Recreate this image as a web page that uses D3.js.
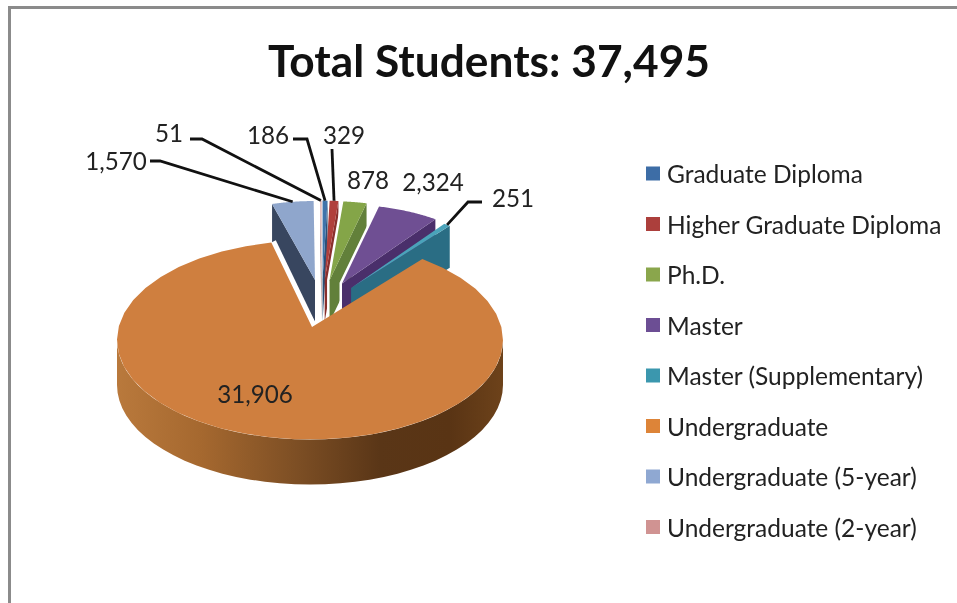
<!DOCTYPE html>
<html>
<head>
<meta charset="utf-8">
<script src="https://cdn.jsdelivr.net/npm/d3@7/dist/d3.min.js"></script>
<style>
html,body{margin:0;padding:0;background:#fff;overflow:hidden}
svg{display:block;filter:blur(0.55px)}
text{font-family:Lato,Carlito,"Open Sans",sans-serif;fill:#222}
</style>
</head>
<body>
<svg id="c" width="957" height="603"></svg>
<script>
const titleText = "Total Students: 37,495";
const categories = ["Graduate Diploma","Higher Graduate Diploma","Ph.D.","Master","Master (Supplementary)","Undergraduate","Undergraduate (5-year)","Undergraduate (2-year)"];
const values = [186,329,878,2324,251,31906,1570,51];
const legendColors = ["#3d6da6","#ac3f3c","#8aa64c","#6c4e94","#3b97ae","#dd8438","#8fa8d2","#d09392"];
const topColors = ["#3f73aa","#b03f3c","#84a548","#6f4f93","#4aa3ba","#cf7f3f","#8fa6cc","#d8a8a8"];
const wallColors = ["#2b5077","#8a2f2d","#62803a","#4a2f6b","#2a6d84","#7a4c22","#38465f","#a67a7a"];
const labelAnchors = [[268,134],[344,134],[368,179],[433,181],[513,197],[255,393],[116,160],[169,132]];

const svg = d3.select("#c");
const defs = svg.append("defs");

// frame
svg.append("path").attr("d","M9.5,603V7.5H957").attr("fill","none").attr("stroke","#8b8b8b").attr("stroke-width",3);

svg.append("text").attr("x",489).attr("y",77).attr("text-anchor","middle")
  .attr("font-size",44).attr("font-weight",700).attr("textLength",442).attr("lengthAdjust","spacingAndGlyphs")
  .style("fill","#111").text(titleText);

// slice geometry
const pieData = d3.pie().sort(null).value(d=>d).startAngle(0).endAngle(2*Math.PI)(values);
const MAIN = 5;
const back = {cx:321.8, cy:321.6, ex:48.7, ey:42, rx:160, ry:79, depth:42};
const front = {cx:310, cy:340, rx:193, ry:99.5, depth:45, ax:312, ay:327, trimStart:-2.5*Math.PI/180, trimEnd:4*Math.PI/180};
const rim = (g,a)=>[g.ox+g.rx*Math.sin(a), g.oy-g.ry*Math.cos(a)];
const lineGen = d3.line();
const wedges = pieData.map((d,i)=>{
  const mid=(d.startAngle+d.endAngle)/2;
  return {i,d,mid,ox:back.cx+back.ex*Math.sin(mid),oy:back.cy-back.ey*Math.cos(mid),rx:back.rx,ry:back.ry};
});
const arcPts=(g,a0,a1)=>d3.range(0,41).map(k=>rim(g,a0+(a1-a0)*k/40));
const layer = svg.append("g");

// back wedges, drawn from the outside in so nearer ones overlap
const order = [6,7,0,1,2,3,4];
order.forEach(i=>{
  const w=wedges[i], d=w.d, dy=back.depth;
  const leftSide = w.mid>Math.PI;
  const edgeA = leftSide? d.startAngle : d.endAngle;
  const e = rim(w,edgeA);
  const wall=[e,[w.ox,w.oy],[w.ox,w.oy+dy],[e[0],e[1]+dy]];
  if(i===2||i===3){
    // thin white separation along the near edge
    const s = rim(w,d.startAngle);
    layer.append("path").attr("d",lineGen([s,[w.ox,w.oy],[w.ox,w.oy+dy],[s[0],s[1]+dy]]))
      .attr("fill","none").attr("stroke","#fff").attr("stroke-width",5);
  }
  layer.append("path").attr("d",lineGen(wall)+"Z").attr("fill",wallColors[i]);
  const top=[[w.ox,w.oy],...arcPts(w,d.startAngle,d.endAngle)];
  layer.append("path").attr("d",lineGen(top)+"Z").attr("fill",topColors[i]);
});

// main slice
const m = pieData[MAIN];
const fg = {ox:front.cx,oy:front.cy,rx:front.rx,ry:front.ry};
const g = defs.append("linearGradient").attr("id","wall").attr("gradientUnits","userSpaceOnUse")
  .attr("x1",front.cx-front.rx).attr("x2",front.cx+front.rx).attr("y1",0).attr("y2",0);
[[0,"#b9793c"],[0.22,"#a5682f"],[0.47,"#7c4e24"],[0.68,"#5a3617"],[0.86,"#593414"],[1,"#6d421a"]]
  .forEach(s=>g.append("stop").attr("offset",s[0]).attr("stop-color",s[1]));
const mainA0=m.startAngle+front.trimStart, mainA1=m.endAngle+front.trimEnd;
const apex=[front.ax,front.ay];

const wallTop=arcPts(fg,Math.PI/2,3*Math.PI/2);
const wallBottom=wallTop.map(p=>[p[0],p[1]+front.depth]).reverse();
layer.append("path").attr("d",lineGen([...wallTop,...wallBottom])+"Z").attr("fill","url(#wall)");

const leftEnd=rim(fg,mainA1);
layer.append("path").attr("d",lineGen([apex,leftEnd])).attr("stroke","#fff").attr("stroke-width",10).attr("fill","none");
layer.append("path").attr("d",lineGen([apex,...arcPts(fg,mainA0,mainA1)])+"Z").attr("fill",topColors[MAIN]);

// value labels
const fmt=d3.format(",");
const labels=svg.append("g").attr("font-size",24.2);
categories.forEach((c,i)=>{
  labels.append("text").attr("x",labelAnchors[i][0]).attr("y",labelAnchors[i][1])
    .attr("text-anchor","middle").attr("dominant-baseline","central").text(fmt(values[i]));
});

// leader lines: start beside the label, end at the slice's outer rim
const leaders=[
  {i:6,from:[150,161],elbow:[160,161]},
  {i:7,from:[190,139],elbow:[202,139]},
  {i:0,from:[293,139],elbow:[307,139]},
  {i:1,from:[332,149],elbow:null},
  {i:4,from:[482,202],elbow:[468,202]}
];
leaders.forEach(l=>{
  const w=wedges[l.i], end=rim(w,w.mid);
  const pts=[l.from]; if(l.elbow) pts.push(l.elbow); pts.push(end);
  svg.append("path").attr("d",lineGen(pts)).attr("fill","none").attr("stroke","#111").attr("stroke-width",2.8);
});

// legend
const ly=d3.scalePoint().domain(categories).range([173.5,527]);
const leg=svg.append("g").selectAll("g").data(categories).join("g").attr("transform",d=>`translate(0,${ly(d)})`);
leg.append("rect").attr("x",646).attr("y",-7).attr("width",14).attr("height",14).attr("fill",(d,i)=>legendColors[i]);
leg.append("text").attr("x",667).attr("dominant-baseline","central").attr("font-size",24.5).text(d=>d);
</script>
</body>
</html>
